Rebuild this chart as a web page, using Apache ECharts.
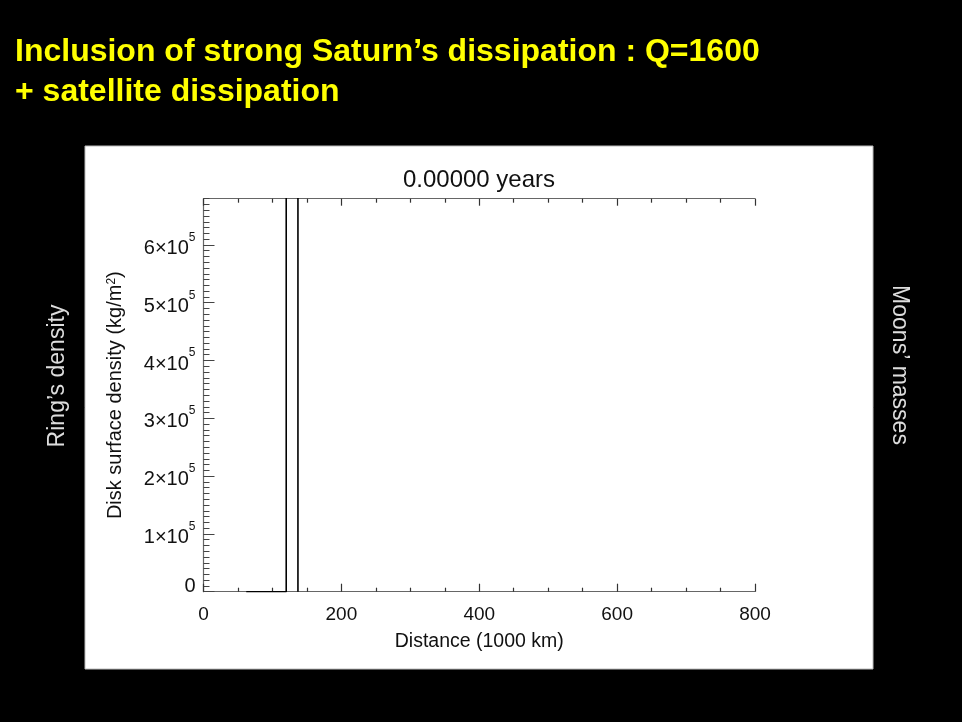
<!DOCTYPE html>
<html>
<head>
<meta charset="utf-8">
<script src="https://cdn.jsdelivr.net/npm/echarts@6/dist/echarts.min.js"></script>
<style>
  html, body { margin: 0; padding: 0; background: #000; }
  #chart { width: 962px; height: 722px; }
</style>
</head>
<body>
<div id="chart"></div>
<script>
// Ring surface density profile (distance in 1000 km, density in kg/m^2)
const distance = [62, 120, 120, 137, 137];
const density  = [0, 0, 2500000, 2500000, 0];

// Axis ranges and tick marks
const xTicks = [0, 200, 400, 600, 800];
const yTicks = [0, 100000, 200000, 300000, 400000, 500000, 600000];
const yMax = 680000;

const headline = ['Inclusion of strong Saturn\u2019s dissipation : Q=1600', '+ satellite dissipation'];
const plotTitle = '0.00000 years';
const leftNote = 'Ring\u2019s density';
const rightNote = 'Moons\u2019 masses';

const FONT = '"Liberation Sans", Arial, Helvetica, sans-serif';
const AX = '#666';

const seriesData = distance.map((d, i) => [d, density[i]]);

// Tick labels in the form  N×10^5
function sciLabel(v) {
  if (v === 0) return '{z|0}';
  return '{b|' + Math.round(v / 100000) + '\u00d710}{s|5}';
}

const grid = { left: 203.5, right: 207, top: 198.7, bottom: 130.3, containLabel: false };

const option = {
  backgroundColor: '#000',
  animation: false,
  grid: grid,
  graphic: [
    { type: 'rect', z: -10, shape: { x: 85, y: 146, width: 788, height: 523 },
      style: { fill: '#fff', stroke: '#bbb', lineWidth: 1 } },
    { type: 'text', z: 10, x: 15, y: 52, style: { text: headline[0], fill: '#ffff00',
      font: 'bold 32px ' + FONT, textVerticalAlign: 'middle' } },
    { type: 'text', z: 10, x: 15, y: 92, style: { text: headline[1], fill: '#ffff00',
      font: 'bold 32px ' + FONT, textVerticalAlign: 'middle' } },
    { type: 'text', z: 10, x: 479, y: 180.5, style: { text: plotTitle, fill: '#111',
      font: '24px ' + FONT, textAlign: 'center', textVerticalAlign: 'middle' } },
    { type: 'text', z: 10, x: 58, y: 376, rotation: Math.PI / 2,
      style: { text: leftNote, fill: '#ddd', font: '23px ' + FONT, textAlign: 'center', textVerticalAlign: 'middle' } },
    { type: 'text', z: 10, x: 899, y: 365, rotation: -Math.PI / 2,
      style: { text: rightNote, fill: '#ddd', font: '23px ' + FONT, textAlign: 'center', textVerticalAlign: 'middle' } }
  ],
  xAxis: [
    {
      type: 'value', position: 'bottom', min: 0, max: 800, interval: 200,
      name: 'Distance (1000 km)', nameLocation: 'middle', nameGap: 40,
      nameTextStyle: { fontFamily: FONT, fontSize: 19.5, color: '#111' },
      axisLine: { show: true, onZero: false, lineStyle: { color: AX, width: 1.2 } },
      axisTick: { show: true, inside: true, length: 8, lineStyle: { color: '#333', width: 1.2 } },
      minorTick: { show: true, splitNumber: 4, length: 4, lineStyle: { color: '#333', width: 1.2 } },
      axisLabel: { margin: 14, fontFamily: FONT, fontSize: 19, color: '#111',
        customValues: xTicks },
      splitLine: { show: false }
    },
    {
      type: 'value', position: 'top', min: 0, max: 800, interval: 200,
      axisLine: { show: true, onZero: false, lineStyle: { color: AX, width: 1.2 } },
      axisTick: { show: true, inside: true, length: 7, lineStyle: { color: '#333', width: 1.2 } },
      minorTick: { show: true, splitNumber: 4, length: 4, lineStyle: { color: '#333', width: 1.2 } },
      axisLabel: { show: false },
      splitLine: { show: false }
    }
  ],
  yAxis: [
    {
      type: 'value', position: 'left', min: 0, max: yMax, interval: 10000,
      axisLine: { show: true, onZero: false, lineStyle: { color: AX, width: 1.2 } },
      axisTick: { show: true, inside: true, length: 6, lineStyle: { color: '#444', width: 1 } },
      axisLabel: { show: false },
      splitLine: { show: false }
    },
    {
      type: 'value', position: 'left', min: 0, max: yMax,
      name: '{n|Disk surface density (kg/m}{s|2}{n|)}',
      nameLocation: 'middle', nameGap: 78,
      nameTextStyle: {
        fontFamily: FONT, color: '#111',
        rich: {
          n: { fontFamily: FONT, fontSize: 20, color: '#111', verticalAlign: 'bottom' },
          s: { fontFamily: FONT, fontSize: 12, color: '#111', verticalAlign: 'top' }
        }
      },
      axisLine: { show: false, onZero: false },
      axisTick: { show: true, inside: true, length: 11, customValues: yTicks,
        lineStyle: { color: '#444', width: 1 } },
      axisLabel: {
        margin: 8, customValues: yTicks, formatter: sciLabel,
        rich: {
          b: { fontFamily: FONT, fontSize: 20, color: '#111', verticalAlign: 'top', padding: [7, 0, 0, 0] },
          s: { fontFamily: FONT, fontSize: 12, color: '#111', verticalAlign: 'top' },
          z: { fontFamily: FONT, fontSize: 20, color: '#111', padding: [0, 0, 11, 0] }
        }
      },
      splitLine: { show: false }
    }
  ],
  series: [
    {
      type: 'line', xAxisIndex: 0, yAxisIndex: 0, data: seriesData,
      symbol: 'none', clip: true,
      lineStyle: { color: '#000', width: 1.6 }
    }
  ]
};

const chart = echarts.init(document.getElementById('chart'), null, { renderer: 'canvas' });
chart.setOption(option);
</script>
</body>
</html>
